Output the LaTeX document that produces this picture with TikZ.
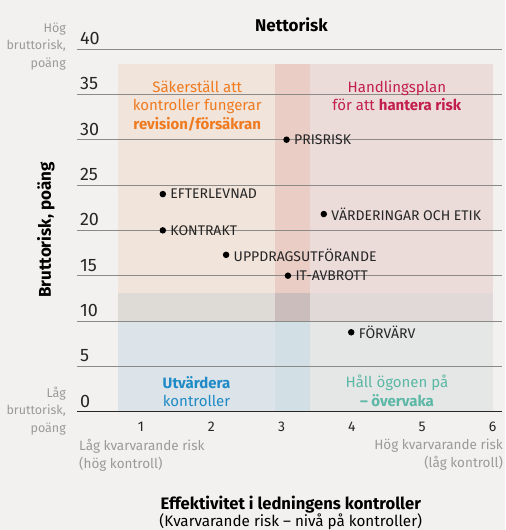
\documentclass[tikz,border=0pt]{standalone}
\usepackage{fontspec}
\setmainfont{Fira Sans}
\usetikzlibrary{positioning}

\definecolor{paper}{HTML}{F2F1EF}
\definecolor{gridgray}{HTML}{8C8A88}
\definecolor{softgray}{HTML}{9A9A9A}
\definecolor{secureorange}{HTML}{EF7A1F}
\definecolor{actred}{HTML}{C21E4E}
\definecolor{evalblue}{HTML}{1E8BC6}
\definecolor{watchteal}{HTML}{5BB7A6}
% zones
\definecolor{zoneTL}{HTML}{F1E4DA}
\definecolor{zoneTM}{HTML}{EACDC4}
\definecolor{zoneTR}{HTML}{EBDCDA}
\definecolor{zoneML}{HTML}{DEDAD6}
\definecolor{zoneMM}{HTML}{CBBDBC}
\definecolor{zoneMR}{HTML}{E1D9D7}
\definecolor{zoneBL}{HTML}{DCE3E9}
\definecolor{zoneBM}{HTML}{D2DFE5}
\definecolor{zoneBR}{HTML}{E4E7E5}

\tikzset{
  dot/.style={circle,fill=black,inner sep=0pt,minimum size=6.5pt},
  risklabel/.style={font=\fontsize{14}{16}\selectfont,text=black!85,inner sep=0pt},
  ticklabel/.style={font=\fontsize{18}{20}\selectfont,text=black!85},
  xticklabel/.style={font=\fontsize{14}{16}\selectfont,text=black!85},
  sidenote/.style={font=\fontsize{12.5}{17.5}\selectfont,text=softgray,align=right},
  quadtext/.style={font=\fontsize{15}{18.5}\selectfont,align=center},
  axistitle/.style={font=\bfseries\fontsize{17}{19}\selectfont}
}

\begin{document}
\begin{tikzpicture}[x=70.3pt,y=9.066pt]
  \pgfmathsetmacro{\xlo}{0.67}
  \pgfmathsetmacro{\xa}{2.9}
  \pgfmathsetmacro{\xb}{3.4}
  \pgfmathsetmacro{\ya}{10}
  \pgfmathsetmacro{\yb}{13.1}
  \pgfmathsetmacro{\yhi}{38.3}
  \fill[paper] (-1.006,-13.05) rectangle (6.178,45.41);
  \useasboundingbox (-1.006,-13.05) rectangle (6.178,45.41);

  % zones
  \fill[zoneTL] (\xlo,\yb) rectangle (\xa,\yhi);
  \fill[zoneTM] (\xa,\yb) rectangle (\xb,\yhi);
  \fill[zoneTR] (\xb,\yb) rectangle (6,\yhi);
  \fill[zoneML] (\xlo,\ya) rectangle (\xa,\yb);
  \fill[zoneMM] (\xa,\ya) rectangle (\xb,\yb);
  \fill[zoneMR] (\xb,\ya) rectangle (6,\yb);
  \fill[zoneBL] (\xlo,0) rectangle (\xa,\ya);
  \fill[zoneBM] (\xa,0) rectangle (\xb,\ya);
  \fill[zoneBR] (\xb,0) rectangle (6,\ya);

  % grid and ticks
  \foreach \yv in {5,10,...,40} {
    \draw[gridgray,line width=0.9pt] (0.09,\yv) -- (6.13,\yv);
    \node[ticklabel,anchor=west,inner sep=0pt] (ytick\yv) at (0.13,\yv+1.15) {\yv};
  }
  \draw[black!85,line width=1.4pt] (0.09,0) -- (6.13,0);
  \node[ticklabel,anchor=west,inner sep=0pt] (ytick0) at (0.13,1.15) {0};
  \foreach \xv in {1,...,6}
    \node[xticklabel] (xtick\xv) at (\xv,-1.7) {\xv};

  % quadrant texts
  \node[quadtext,text=secureorange] (secure) at (1.80,33.72)
    {Säkerställ att\\kontroller fungerar\\\textbf{revision/försäkran}};
  \node[quadtext,text=actred] (act) at (4.64,34.82)
    {Handlingsplan\\för att \textbf{hantera risk}};
  \node[quadtext,text=evalblue] (evaluate) at (1.79,2.23)
    {\textbf{Utvärdera}\\kontroller};
  \node[quadtext,text=watchteal] (watch) at (4.64,2.28)
    {Håll ögonen på\\\textbf{– övervaka}};

  % risks
  \foreach \px/\py/\nm/\txt in {3.07/30/prisrisk/PRISRISK,
      1.31/24/efterlevnad/EFTERLEVNAD,
      3.60/21.8/varderingar/VÄRDERINGAR OCH ETIK,
      1.31/20/kontrakt/KONTRAKT,
      2.21/17.3/uppdrag/UPPDRAGSUTFÖRANDE,
      3.09/15/itavbrott/IT-AVBROTT,
      3.99/8.76/forvarv/FÖRVÄRV} {
    \node[dot] (\nm) at (\px,\py) {};
    \node[risklabel,right=4pt of \nm] (\nm-txt) {\txt};
  }

  % axis texts
  \node[axistitle] (nettorisk) at (3.14,42.66) {Nettorisk};
  \node[axistitle,rotate=90] (bruttorisk) at (-0.355,20.04) {Bruttorisk, poäng};
  \node[sidenote,anchor=east,inner sep=0pt] (hogbrutto) at (-0.067,40.33)
    {Hög\\bruttorisk,\\poäng};
  \node[sidenote,anchor=east,inner sep=0pt] (lagbrutto) at (-0.067,0.08)
    {Låg\\bruttorisk,\\poäng};
  \node[sidenote,font=\fontsize{13.5}{18}\selectfont,align=left,anchor=west,inner sep=0pt] (lagrest) at (0.118,-4.77)
    {Låg kvarvarande risk\\(hög kontroll)};
  \node[sidenote,font=\fontsize{13.5}{18}\selectfont,anchor=east,inner sep=0pt] (hogrest) at (6.15,-4.77)
    {Hög kvarvarande risk\\(låg kontroll)};
  \node[align=center,font=\fontsize{15.2}{16.5}\selectfont] (effekt) at (3.13,-11.17)
    {{\bfseries\fontsize{16.6}{16.5}\selectfont Effektivitet i ledningens kontroller}\\(Kvarvarande risk – nivå på kontroller)};
\end{tikzpicture}
\end{document}
